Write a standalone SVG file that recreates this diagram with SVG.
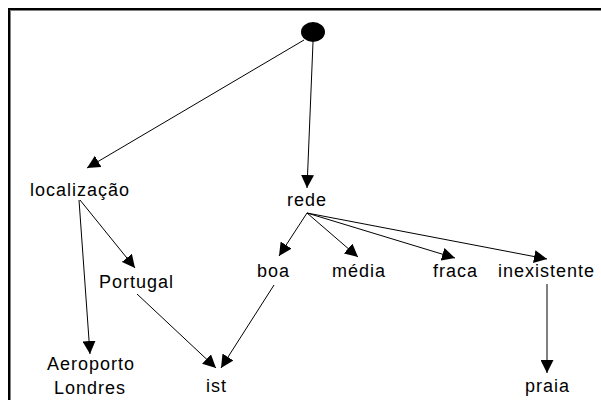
<svg xmlns="http://www.w3.org/2000/svg" width="601" height="400" viewBox="0 0 601 400">
<style>
.lbl{font-family:"Liberation Sans",Arial,sans-serif;font-size:18px;letter-spacing:1px;fill:#000}
.edge{stroke:#000;stroke-width:1;fill:none;marker-end:url(#ah)}
</style>
<defs>
<marker id="ah" markerUnits="userSpaceOnUse" markerWidth="13" markerHeight="13" refX="13" refY="6.5" orient="auto">
<path d="M0,0 L13,6.5 L0,13 z" fill="#000"/>
</marker>
</defs>
<rect width="601" height="400" fill="#fff"/>
<g id="frame">
<rect x="8" y="8" width="593" height="2" fill="#000"/>
<rect x="8" y="8" width="2" height="392" fill="#000"/>
<rect x="10" y="10" width="591" height="1" fill="#808080"/>
<rect x="10" y="10" width="1" height="390" fill="#808080"/>
</g>
<g id="connectors">
<line class="edge" x1="304" y1="40" x2="87" y2="168"/>
<line class="edge" x1="313" y1="42" x2="307" y2="188"/>
<line class="edge" x1="79" y1="200" x2="90" y2="354"/>
<line class="edge" x1="80" y1="200" x2="135" y2="268"/>
<line class="edge" x1="137" y1="294" x2="216" y2="368"/>
<line class="edge" x1="274" y1="285" x2="221" y2="368"/>
<line class="edge" x1="307" y1="213" x2="279" y2="256"/>
<line class="edge" x1="307" y1="213" x2="358" y2="257"/>
<line class="edge" x1="307" y1="213" x2="455" y2="258"/>
<line class="edge" x1="307" y1="213" x2="547" y2="259"/>
<line class="edge" x1="547" y1="284" x2="547" y2="373"/>
</g>
<g id="root"><ellipse cx="313" cy="32" rx="12" ry="10" fill="#000"/></g>
<g id="localizacao"><text class="lbl" x="30" y="195.5">localização</text></g>
<g id="rede"><text class="lbl" x="287" y="205.5">rede</text></g>
<g id="portugal"><text class="lbl" x="99" y="288">Portugal</text></g>
<g id="aeroporto"><text class="lbl" x="47" y="370">Aeroporto</text><text class="lbl" x="54" y="394">Londres</text></g>
<g id="ist"><text class="lbl" x="206" y="392">ist</text></g>
<g id="boa"><text class="lbl" x="257" y="277">boa</text></g>
<g id="media"><text class="lbl" x="332" y="277">média</text></g>
<g id="fraca"><text class="lbl" x="433" y="277">fraca</text></g>
<g id="inexistente"><text class="lbl" x="498" y="277">inexistente</text></g>
<g id="praia"><text class="lbl" x="525" y="392">praia</text></g>
</svg>
